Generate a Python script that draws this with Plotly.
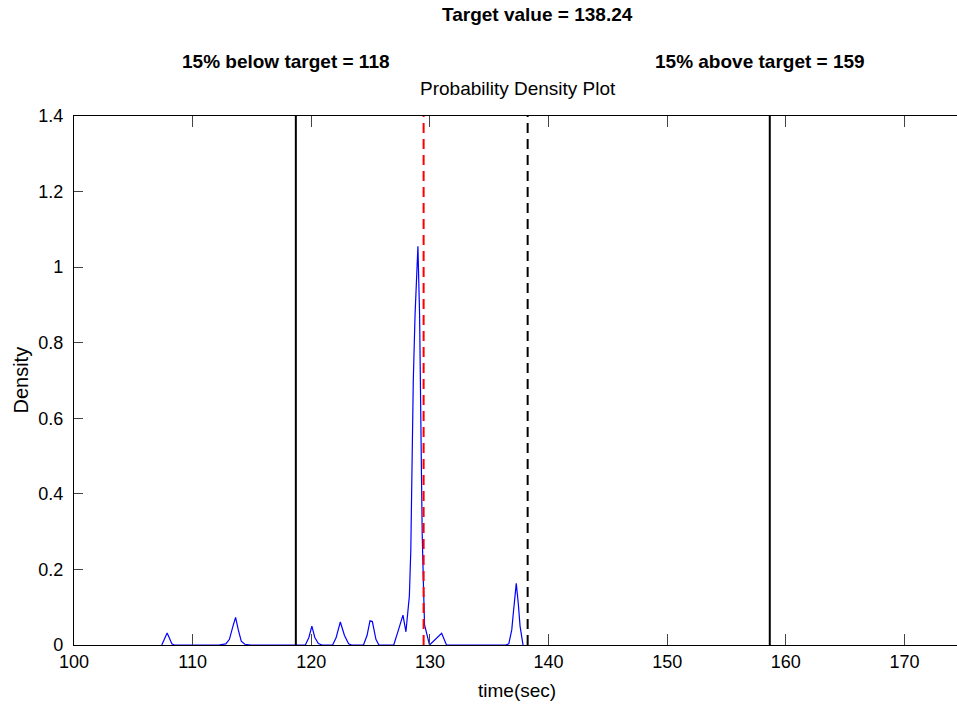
import plotly.graph_objects as go

# ---- data ----
density_x = [107.40, 107.60, 107.85, 108.05, 108.25, 108.45, 108.70, 109.5, 110.5, 111.5,
             112.20, 112.80, 113.10, 113.40, 113.62, 113.85, 114.10, 114.40, 114.90,
             116.0, 117.0, 118.0, 119.0,
             119.50, 119.80, 120.05, 120.30, 120.60, 120.90, 121.30,
             121.80, 122.10, 122.45, 122.80, 123.15, 123.40, 124.00,
             124.40, 124.70, 124.95, 125.15, 125.45, 125.70, 126.30,
             126.95, 127.35, 127.73, 127.98, 128.27, 128.39, 128.47, 128.52, 128.60, 128.75,
             128.99, 129.13, 129.27, 129.35, 129.46, 129.55, 129.97, 130.99, 131.40, 132.0, 132.5,
             133.5, 134.5, 135.5,
             136.40, 136.65, 136.90, 137.05, 137.28, 137.45, 137.60, 137.85]
density_y = [0.0, 0.015, 0.032, 0.018, 0.003, 0.0, 0.0, 0.0, 0.0, 0.0,
             0.0, 0.003, 0.015, 0.050, 0.073, 0.040, 0.010, 0.002, 0.0,
             0.0, 0.0, 0.0, 0.0,
             0.0, 0.020, 0.050, 0.020, 0.004, 0.0, 0.0,
             0.0, 0.020, 0.061, 0.025, 0.003, 0.0, 0.0,
             0.0, 0.025, 0.064, 0.062, 0.015, 0.0, 0.0,
             0.0, 0.040, 0.079, 0.035, 0.130, 0.250, 0.420, 0.590, 0.700, 0.875,
             1.055, 0.875, 0.374, 0.295, 0.154, 0.053, 0.0, 0.031, 0.0, 0.0, 0.0,
             0.0, 0.0, 0.0,
             0.0, 0.003, 0.040, 0.090, 0.163, 0.110, 0.050, 0.0]
assert len(density_x) == len(density_y)

target_value = 138.24
lower_limit = 118.7      # drawn position of "15% below target" line
upper_limit = 158.65     # drawn position of "15% above target" line
mean_value = 129.47      # red dashed line

x_ticks = [100, 110, 120, 130, 140, 150, 160, 170]
y_ticks = [0, 0.2, 0.4, 0.6, 0.8, 1.0, 1.2, 1.4]
y_tick_labels = ["0", "0.2", "0.4", "0.6", "0.8", "1", "1.2", "1.4"]

title_text = "Target value = 138.24"
below_text = "15% below target = 118"
above_text = "15% above target = 159"
plot_title = "Probability Density Plot"
x_label = "time(sec)"
y_label = "Density"

Y_MAX = 1.4

fig = go.Figure()

fig.add_trace(go.Scatter(x=density_x, y=density_y, mode="lines",
                         line=dict(color="#0000ff", width=1.2), showlegend=False,
                         hoverinfo="skip"))

for xv in [lower_limit, upper_limit]:
    fig.add_trace(go.Scatter(x=[xv, xv], y=[0, Y_MAX], mode="lines",
                             line=dict(color="black", width=2), showlegend=False,
                             hoverinfo="skip"))

fig.add_trace(go.Scatter(x=[mean_value, mean_value], y=[0, Y_MAX], mode="lines",
                         line=dict(color="#ff0000", width=2, dash="10px,6px"),
                         showlegend=False, hoverinfo="skip"))
fig.add_trace(go.Scatter(x=[target_value, target_value], y=[0, Y_MAX], mode="lines",
                         line=dict(color="black", width=2, dash="10px,6px"),
                         showlegend=False, hoverinfo="skip"))

L, T, B = 73.5, 116, 61
W, H = 957, 706
px_per_unit = 11.87
x_max = 100 + (W - L) / px_per_unit

font_main = "Liberation Sans, Arial, sans-serif"

fig.update_layout(
    width=W, height=H,
    margin=dict(l=L, r=0, t=T, b=B, pad=0),
    paper_bgcolor="white", plot_bgcolor="white",
    font=dict(family=font_main, size=18, color="black"),
    xaxis=dict(range=[100, x_max], tickvals=x_ticks, ticks="inside", ticklen=11,
               tickcolor="#444", tickwidth=1, showline=True, linecolor="black",
               linewidth=1.2, mirror="ticks", showgrid=False, zeroline=False,
               tickfont=dict(family=font_main, size=18)),
    yaxis=dict(range=[0, Y_MAX], tickvals=y_ticks, ticktext=y_tick_labels,
               ticks="inside", ticklen=9, tickcolor="#444", tickwidth=1,
               showline=True, linecolor="black", linewidth=1.2, mirror=False,
               showgrid=False, zeroline=False,
               tickfont=dict(family=font_main, size=18), ticklabelstandoff=6),
)

plot_h = H - T - B
def py(pix_y):
    return (H - B - pix_y) / plot_h

def pxp(pix_x):
    return (pix_x - L) / (W - L)

fig.add_annotation(text="<b>" + title_text + "</b>", xref="paper", yref="paper",
                   x=pxp(537), y=py(15), showarrow=False, xanchor="center", yanchor="middle",
                   font=dict(family=font_main, size=19))
fig.add_annotation(text="<b>" + below_text + "</b>", xref="paper", yref="paper",
                   x=pxp(286), y=py(62), showarrow=False, xanchor="center", yanchor="middle",
                   font=dict(family=font_main, size=19))
fig.add_annotation(text="<b>" + above_text + "</b>", xref="paper", yref="paper",
                   x=pxp(760), y=py(62), showarrow=False, xanchor="center", yanchor="middle",
                   font=dict(family=font_main, size=19))
fig.add_annotation(text=plot_title, xref="paper", yref="paper",
                   x=pxp(518), y=py(89), showarrow=False, xanchor="center", yanchor="middle",
                   font=dict(family=font_main, size=19))
fig.add_annotation(text=x_label, xref="paper", yref="paper",
                   x=pxp(517), y=py(690), showarrow=False, xanchor="center", yanchor="middle",
                   font=dict(family=font_main, size=19))
fig.add_annotation(text=y_label, xref="paper", yref="paper", textangle=-90,
                   x=pxp(20), y=py(380), showarrow=False, xanchor="center", yanchor="middle",
                   font=dict(family=font_main, size=20))

fig.write_html("out.html")
